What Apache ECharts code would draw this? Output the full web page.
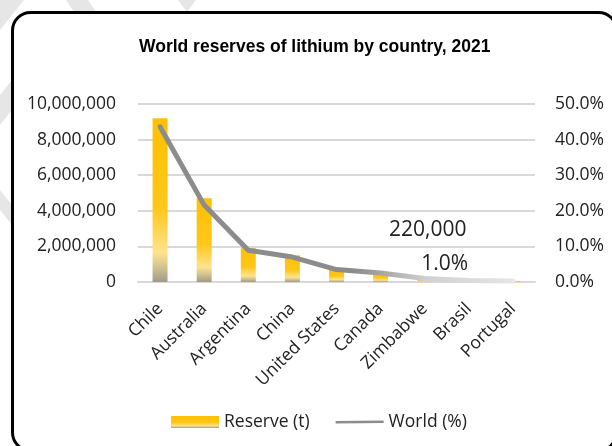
<!DOCTYPE html>
<html><head><meta charset="utf-8">
<script src="https://cdn.jsdelivr.net/npm/echarts@6/dist/echarts.min.js"></script>
<style>html,body{margin:0;padding:0;background:#fff;}#c{width:612px;height:446px;}</style>
</head><body><div id="c"></div>
<script>
const countries = ['Chile','Australia','Argentina','China','United States','Canada','Zimbabwe','Brasil','Portugal'];
const reserves = [9200000,4700000,1900000,1500000,750000,530000,220000,95000,60000];
const worldPct = [43.6,21.6,8.9,7.0,3.5,2.5,1.0,0.4,0.3];
const leftTicks = [0,2000000,4000000,6000000,8000000,10000000];
const rightTicks = [0,10,20,30,40,50];
const labelIndex = 6;

const FONT = 'Open Sans';
const chart = echarts.init(document.getElementById('c'), null, {renderer:'canvas'});
const barGrad = new echarts.graphic.LinearGradient(0,0,0,1,[
  {offset:0,color:'#FFC000'},{offset:0.55,color:'#FFC71A'},{offset:0.82,color:'#FFE38C'},{offset:0.9,color:'#D8C690'},{offset:1,color:'#A09A8A'}
]);
const lineGrad = new echarts.graphic.LinearGradient(0,0,1,0,[
  {offset:0,color:'#8C8C8C'},{offset:0.55,color:'#8C8C8C'},{offset:0.75,color:'#D0D0D0'},{offset:1,color:'#E6E6E6'}
]);
const stripe = '#E6E6E6';
function band(points){return {type:'polygon',shape:{points:points},style:{fill:stripe},z:-3,silent:true};}
chart.setOption({
  animation:false,
  textStyle:{fontFamily:FONT},
  graphic:[
    band([[0,0],[24,0],[0,30]]),
    band([[66,0],[88,0],[96,12],[74,12]]),
    band([[178,0],[196,0],[187,12]]),
    band([[0,95],[12,80],[12,110],[0,125]]),
    band([[0,190],[12,205],[12,225],[0,210]]),
    {type:'rect',left:11,top:11,shape:{width:604,height:438,r:18},style:{fill:'#fff',stroke:'#000',lineWidth:3},z:-2,silent:true}
  ],
  title:{text:'World reserves of lithium by country, 2021',left:134,top:33,
    textStyle:{fontFamily:'Liberation Sans',fontWeight:'bold',fontSize:17.5,color:'#000'}},
  grid:{left:138,right:77,top:104,bottom:164,containLabel:false},
  legend:{bottom:10,left:166,itemGap:26,itemWidth:48,itemHeight:12,
    textStyle:{fontFamily:FONT,fontSize:17.5,color:'#222'},
    data:[{name:'Reserve (t)',icon:'rect'},
          {name:'World (%)',icon:'path://M0,0 L0.01,0 M0,5 L48,4.5 L48,7 L0,7.5 Z M48,12 L48.01,12',itemStyle:{color:'#8C8C8C'}}]},
  xAxis:{type:'category',data:countries,
    axisLine:{lineStyle:{color:'#D9D9D9',width:2}},axisTick:{show:false},
    axisLabel:{rotate:45,fontSize:17.5,color:'#222',margin:24,interval:0,fontFamily:FONT}},
  yAxis:[{type:'value',min:0,max:10000000,interval:2000000,
    axisLabel:{fontSize:17.5,color:'#222',margin:22,fontFamily:FONT,formatter:v=>v.toLocaleString('en-US')},
    splitLine:{lineStyle:{color:'#D9D9D9',width:2}},axisLine:{show:false},axisTick:{show:false}},
   {type:'value',min:0,max:50,interval:10,position:'right',
    axisLabel:{fontSize:17.5,color:'#222',margin:20,fontFamily:FONT,formatter:v=>v.toFixed(1)+'%'},
    splitLine:{show:false},axisLine:{show:false},axisTick:{show:false}}],
  series:[
   {name:'Reserve (t)',type:'bar',data:reserves.map((v,i)=>({value:v,label:{show:i===labelIndex}})),barWidth:15,
    itemStyle:{color:barGrad},
    label:{position:'top',offset:[3,-33],fontSize:21,color:'#222',fontFamily:FONT,formatter:p=>p.value.toLocaleString('en-US')}},
   {name:'World (%)',type:'line',yAxisIndex:1,data:worldPct,
    symbol:'none',lineStyle:{width:5,color:lineGrad,cap:'round',join:'round'},itemStyle:{color:'#8C8C8C'},
    markPoint:{symbol:'circle',symbolSize:0,silent:true,
      data:[{coord:[labelIndex,worldPct[labelIndex]],value:worldPct[labelIndex]}],
      label:{show:true,position:'inside',offset:[20,-14],fontSize:21,color:'#222',fontFamily:FONT,formatter:p=>p.value.toFixed(1)+'%'}}}
  ]
});
</script></body></html>
